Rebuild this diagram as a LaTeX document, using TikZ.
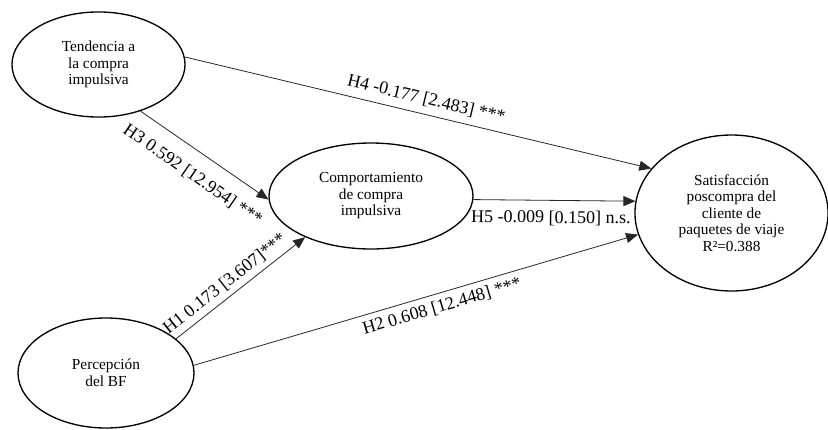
\documentclass[tikz,border=0pt]{standalone}
\usepackage{fontspec}
\setmainfont{Liberation Serif}
\usetikzlibrary{shapes.geometric,arrows.meta}
\tikzset{
  construct/.style={
    shape = ellipse,
    draw,
    line width = 1pt,
    inner sep = 0pt,
    align = center,
    font = \fontsize{11.5}{12.4}\selectfont
  },
  hyp/.style={
    draw = black!85,
    line width = 0.6pt,
    -{Triangle[length=9pt,width=7.5pt]}
  },
  hyplabel/.style={
    sloped,
    font = \fontsize{13.5}{15}\selectfont
  }
}

\begin{document}
\begin{tikzpicture}[x=0.75pt,y=-0.75pt]
        \useasboundingbox (0,0) rectangle (828,429);
        % constructs
        \node[construct,minimum width=129.8pt,minimum height=78.8pt] (tend) at (98.5,64.5) {Tendencia a\\la compra\\impulsiva};
        \node[construct,minimum width=153pt,minimum height=79.5pt] (comp) at (371,196) {Comportamiento\\de compra\\impulsiva};
        \node[construct,minimum width=144.8pt,minimum height=117pt] (sat) at (731.5,213) {Satisfacción\\poscompra del\\cliente de\\paquetes de viaje\\R²=0.388};
        \node[construct,minimum width=132pt,minimum height=82.5pt] (perc) at (106,373) {Percepción\\del BF};
        % hypotheses
        \draw[hyp] (tend.5) -- node[hyplabel,above=2pt,pos=0.51] {H4 -0.177 [2.483] ***} (sat.151);
        \draw[hyp] (tend.-48) -- node[hyplabel,below=8pt,pos=0.51] {H3 0.592 [12.954] ***} (comp.182);
        \draw[hyp] (perc.26) -- node[hyplabel,above=0.5pt,pos=0.44] {H1 0.173 [3.607]***} (comp.212);
        \draw[hyp] (perc.5) -- node[hyplabel,below=1pt,pos=0.55] {H2 0.608 [12.448] ***} (sat.193);
        \draw[hyp] (comp.-2) -- node[hyplabel,below=4pt,pos=0.48] {H5 -0.009 [0.150] n.s.} (sat.173);
    \end{tikzpicture}
\end{document}
